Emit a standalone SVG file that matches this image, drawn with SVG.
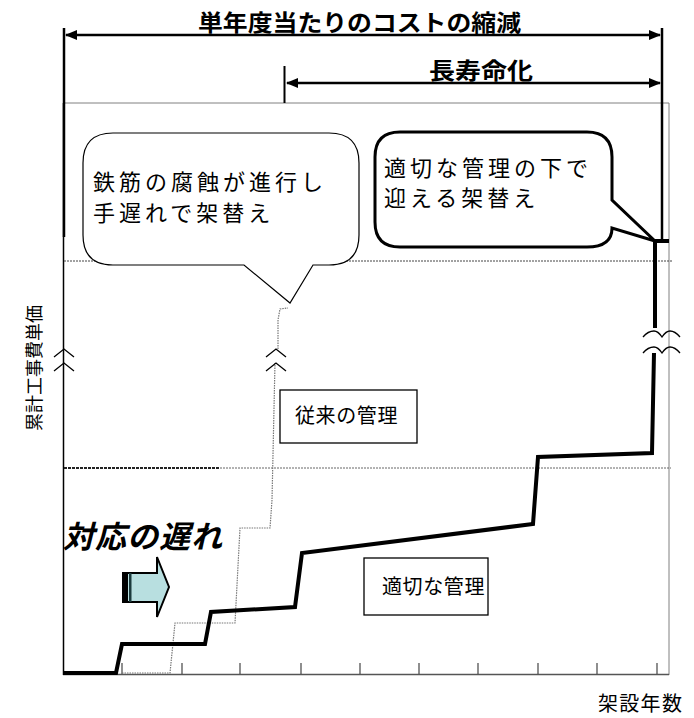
<svg xmlns="http://www.w3.org/2000/svg" width="694" height="718" viewBox="0 0 694 718">
<defs>
<marker id="ah" viewBox="0 0 12 10" refX="11" refY="5" markerWidth="12" markerHeight="10" markerUnits="userSpaceOnUse" orient="auto-start-reverse">
<path d="M0,0 L12,5 L0,10 Z" fill="#000"/>
</marker>
</defs>
<style>
text{font-family:"Noto Sans CJK JP","Noto Sans",sans-serif;fill:#000}
.ttl{font-size:23px;font-weight:bold}
.bub{font-size:22px;letter-spacing:4px}
.lbl{font-size:20px;letter-spacing:0.6px}
.thin{fill:none;stroke:#808080;stroke-width:1}
.dim{fill:none;stroke:#000;stroke-width:2.5}
.caret{fill:none;stroke:#000;stroke-width:1.3}
.tick{stroke:#444;stroke-width:1.2}
</style>
<rect width="694" height="718" fill="#fff"/>

<g id="frame">
<line x1="63.5" y1="103" x2="669" y2="103" class="thin"/>
<line x1="669" y1="103" x2="669" y2="675" class="thin"/>
<line x1="63.5" y1="103" x2="63.5" y2="675" stroke="#000" stroke-width="1.5"/>
<line x1="63" y1="674.5" x2="669" y2="674.5" stroke="#555" stroke-width="1.6"/>
<line x1="64" y1="261" x2="673" y2="261" stroke="#444" stroke-width="1" stroke-dasharray="2 1"/>
<line x1="64" y1="468" x2="220" y2="468" stroke="#222" stroke-width="2" stroke-dasharray="3 1"/>
<line x1="220" y1="468" x2="671" y2="468" stroke="#666" stroke-width="1" stroke-dasharray="2 1"/>
<g class="tick">
<line x1="122" y1="663" x2="122" y2="674"/>
<line x1="182" y1="663" x2="182" y2="674"/>
<line x1="240" y1="663" x2="240" y2="674"/>
<line x1="301" y1="663" x2="301" y2="674"/>
<line x1="360" y1="663" x2="360" y2="674"/>
<line x1="419" y1="663" x2="419" y2="674"/>
<line x1="478" y1="663" x2="478" y2="674"/>
<line x1="538" y1="663" x2="538" y2="674"/>
<line x1="597" y1="663" x2="597" y2="674"/>
<line x1="657" y1="663" x2="657" y2="674"/>
</g>
</g>

<g id="connectors">
<line x1="64" y1="28" x2="64" y2="237" stroke="#000" stroke-width="2.5"/>
<line x1="662" y1="28" x2="662" y2="241" stroke="#000" stroke-width="2.5"/>
<line x1="284.5" y1="66" x2="284.5" y2="103" stroke="#000" stroke-width="2"/>
<line x1="66" y1="35" x2="660" y2="35" class="dim" marker-start="url(#ah)" marker-end="url(#ah)"/>
<line x1="287" y1="83" x2="660" y2="83" class="dim" marker-start="url(#ah)" marker-end="url(#ah)"/>
</g>

<g id="conventional-curve">
<polyline points="122,673 170,673 175,623 235,623 240,528 270,528 272,500 275,363" fill="none" stroke="#777" stroke-width="1.2" stroke-dasharray="1.5 1"/>
<polyline points="278,349 278,320 280,309 288,308" fill="none" stroke="#777" stroke-width="1.2" stroke-dasharray="1.5 1"/>
</g>

<g id="appropriate-curve">
<polyline points="63,673 116,673 122,644 205,644 211,612 295,607 302,553 533,524 538,457 652,453 654,353" fill="none" stroke="#000" stroke-width="4" stroke-linejoin="miter"/>
<polyline points="655,328 655,241 669,241" fill="none" stroke="#000" stroke-width="4"/>
</g>

<g id="breaks">
<path d="M54,357 L64,349 L74,357 M54,371 L64,363 L74,371" class="caret"/>
<path d="M266,357 L276,349 L286,357 M266,371 L276,363 L286,371" class="caret"/>
<path d="M643,337 Q648,331 654,331 Q658,331 662,337 Q666,331 670,331 Q675,331 680,337" class="caret"/>
<path d="M643,353 Q648,347 654,347 Q658,347 662,353 Q666,347 670,347 Q675,347 680,353" class="caret"/>
</g>

<g id="title-cost">
<text class="ttl" x="198" y="31" textLength="323" lengthAdjust="spacingAndGlyphs">単年度当たりのコストの縮減</text>
</g>
<g id="title-life">
<text class="ttl" x="429" y="79" font-size="21" textLength="104" lengthAdjust="spacingAndGlyphs">長寿命化</text>
</g>

<g id="bubble-late">
<path d="M113,133 L329,133 Q359,133 359,163 L359,235 Q359,265 329,265 L313,265 L290,303 L244,265 L113,265 Q83,265 83,235 L83,163 Q83,133 113,133 Z" fill="#fff" stroke="#000" stroke-width="1.2"/>
<text class="bub" x="93" y="190">鉄筋の腐蝕が進行し</text>
<text class="bub" x="93" y="221">手遅れで架替え</text>
</g>

<g id="bubble-proper">
<path d="M400,132 L587,132 Q612,132 612,157 L612,200 L655,241 L612,228 Q612,247 587,247 L400,247 Q375,247 375,222 L375,157 Q375,132 400,132 Z" fill="#fff" stroke="#000" stroke-width="3" stroke-linejoin="miter"/>
<text class="bub" x="384" y="176">適切な管理の下で</text>
<text class="bub" x="384" y="206">迎える架替え</text>
</g>

<g id="box-conventional">
<rect x="280" y="390" width="137" height="53" fill="#fff" stroke="#000" stroke-width="1.3"/>
<text class="lbl" x="295" y="423">従来の管理</text>
</g>

<g id="box-proper">
<rect x="364" y="558" width="124" height="57" fill="#fff" stroke="#000" stroke-width="1.3"/>
<text class="lbl" x="382" y="594">適切な管理</text>
</g>

<g id="delay">
<text x="63" y="548" font-size="31" font-weight="bold" font-style="italic" letter-spacing="1">対応の遅れ</text>
<path d="M123,573 L157,573 L157,557 L169,587 L157,617 L157,602 L123,602 Z" fill="#b8dfe0" stroke="#000" stroke-width="2" stroke-linejoin="miter"/>
<rect x="123" y="573" width="5" height="29" fill="#000"/>
<rect x="129" y="573" width="2.5" height="29" fill="#1a3a3c"/>
</g>

<g id="axis-labels">
<text transform="translate(41,368) rotate(-90)" font-size="18" text-anchor="middle">累計工事費単価</text>
<text x="598" y="711" font-size="20" letter-spacing="1.3">架設年数</text>
</g>
</svg>
